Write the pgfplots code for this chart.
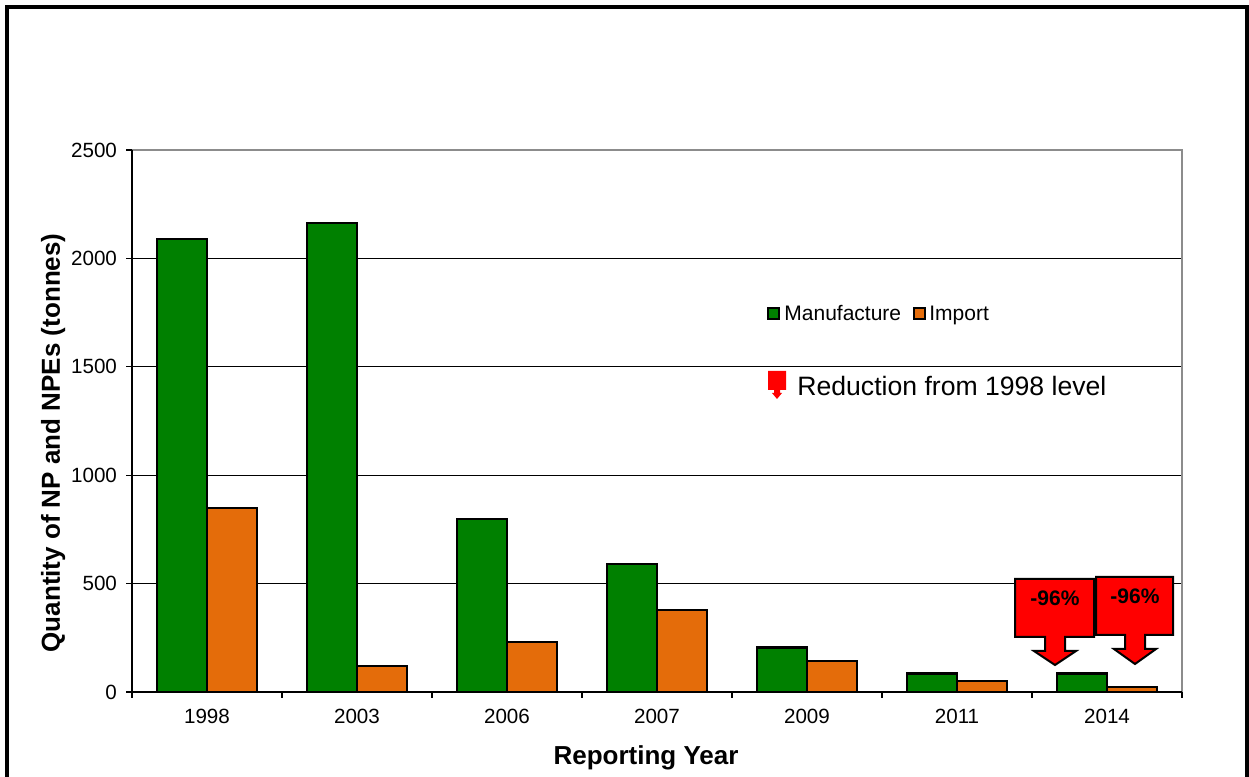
\documentclass[border=0pt]{standalone}
\usepackage{fontspec}
\setmainfont{Liberation Sans}
\usepackage{pgfplots}
\pgfplotsset{compat=1.18}
\definecolor{mgreen}{RGB}{0,128,0}
\definecolor{morange}{RGB}{228,108,10}
\begin{document}
\begin{tikzpicture}
\useasboundingbox (0,0) rectangle (624.5pt,388.5pt);
\begin{axis}[
  at={(66pt,42.5pt)}, anchor=south west,
  scale only axis, width=525pt, height=271pt,
  xmin=-0.5, xmax=6.5, ymin=0, ymax=2500,
  ybar=0pt, bar width=0.3333,
  axis line style={draw=none},
  xtick={0,1,2,3,4,5,6},
  xticklabels={1998,2003,2006,2007,2009,2011,2014},
  minor xtick={-0.5,0.5,1.5,2.5,3.5,4.5,5.5,6.5},
  ytick={0,500,1000,1500,2000,2500},
  ymajorgrids, grid style={black, line width=0.6pt},
  major x tick style={draw=none},
  minor x tick style={black, line width=0.6pt},
  major y tick style={black, line width=0.6pt},
  tick align=outside, tick pos=left,
  major tick length=3pt, minor tick length=3pt,
  /pgf/number format/assume math mode=true,
  /pgf/number format/set thousands separator={},
  tick label style={font=\fontsize{10.3}{12}\selectfont, black},
  xticklabel style={yshift=-2pt},
  yticklabel style={xshift=-1pt},
  xlabel={\textbf{Reporting Year}},
  ylabel={\textbf{Quantity of NP and NPEs (tonnes)}},
  label style={font=\fontsize{13}{15}\selectfont},
  xlabel style={xshift=-5.5pt, yshift=-4pt},
  ylabel style={xshift=-11pt, yshift=-4pt},
  clip=false,
]
\addplot[fill=mgreen, draw=black, line width=1.3pt] coordinates {(0,2090) (1,2163) (2,798) (3,590) (4,205) (5,85) (6,85)};
\addplot[fill=morange, draw=black, line width=1.3pt] coordinates {(0,849) (1,120) (2,231) (3,378) (4,143) (5,51) (6,23)};
\draw[gray!90, line width=1pt] (rel axis cs:0,1) -- (rel axis cs:1,1) -- (rel axis cs:1,0);
\draw[black, line width=1pt] (rel axis cs:0,1) -- (rel axis cs:0,0) -- (rel axis cs:1,0);
\end{axis}
\begin{scope}[x=0.5pt, y=-0.5pt, shift={(0,388.5pt)}]
\draw[line width=2pt] (7,7) rectangle (1247,820);
% legend
\draw[black, line width=1.3pt, fill=mgreen] (768,308) rectangle (779,319);
\node[anchor=base west, inner sep=0pt, font=\fontsize{10.5}{12}\selectfont] at (784,321) {Manufacture};
\draw[black, line width=1.3pt, fill=morange] (914,308) rectangle (925,319);
\node[anchor=base west, inner sep=0pt, font=\fontsize{10.5}{12}\selectfont] at (929,321) {Import};
\fill[red] (768,371) -- (786,371) -- (786,390) -- (780,390) -- (780,393) -- (782,393) -- (777,399) -- (772,393) -- (774,393) -- (774,390) -- (768,390) -- cycle;
\node[anchor=base west, inner sep=0pt, font=\fontsize{13.3}{15}\selectfont] at (797,396) {Reduction from 1998 level};
% reduction arrows
\draw[black, line width=1pt, fill=red] (1015,579) -- (1094,579) -- (1094,637) -- (1065,637) -- (1065,651) -- (1076,651) -- (1055,665) -- (1034,651) -- (1045,651) -- (1045,637) -- (1015,637) -- cycle;
\node[font=\fontsize{10.5}{12}\selectfont\bfseries] at (1055,598) {-96\%};
\draw[black, line width=1pt, fill=red] (1096,577) -- (1173,577) -- (1173,635) -- (1145,635) -- (1145,649) -- (1156,649) -- (1135,664) -- (1114,649) -- (1125,649) -- (1125,635) -- (1096,635) -- cycle;
\node[font=\fontsize{10.5}{12}\selectfont\bfseries] at (1135,596) {-96\%};
\end{scope}
\end{tikzpicture}
\end{document}
